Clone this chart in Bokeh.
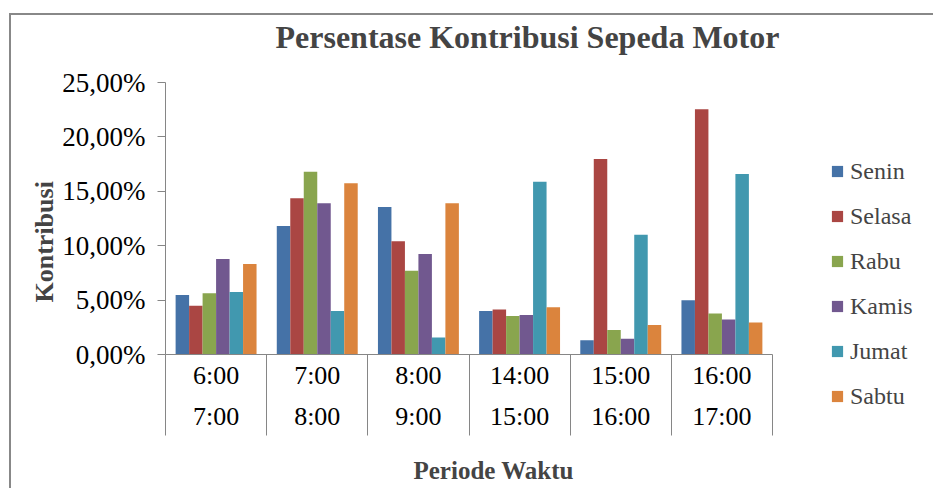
import numpy as np
from bokeh.plotting import figure
from bokeh.layouts import row
from bokeh.models import (ColumnDataSource, Range1d, FixedTicker, Legend, LegendItem,
                          Title, LinearAxis)
from bokeh.transform import dodge
from bokeh.embed import file_html
from bokeh.resources import INLINE

# ---- data ----
periods = ["6:00\n7:00", "7:00\n8:00", "8:00\n9:00", "14:00\n15:00", "15:00\n16:00", "16:00\n17:00"]
days = ["Senin", "Selasa", "Rabu", "Kamis", "Jumat", "Sabtu"]
senin  = [5.48, 11.80, 13.55, 4.00, 1.31, 4.98]
selasa = [4.47, 14.37, 10.40, 4.13, 17.98, 22.55]
rabu   = [5.62, 16.80, 7.70, 3.55, 2.26, 3.76]
kamis  = [8.78, 13.90, 9.24, 3.64, 1.44, 3.21]
jumat  = [5.75, 4.00, 1.56, 15.87, 11.00, 16.58]
sabtu  = [8.32, 15.75, 13.90, 4.34, 2.72, 2.94]
y_ticks = [0, 5, 10, 15, 20, 25]
y_tick_labels = ["0,00%", "5,00%", "10,00%", "15,00%", "20,00%", "25,00%"]

series = [senin, selasa, rabu, kamis, jumat, sabtu]
colors = ["#4572A7", "#AA4643", "#89A54E", "#71588F", "#4198AF", "#DB843D"]

FONT = "Liberation Serif"
GRAY = "#868686"
BORDER = "#888888"

x_pos = np.arange(len(periods)) + 0.5
data = {"x": x_pos}
for d, s in zip(days, series):
    data[d] = s
source = ColumnDataSource(data)

p = figure(width=800, height=488, output_backend="svg", toolbar_location=None,
           x_range=Range1d(0, len(periods)), y_range=Range1d(0, 25),
           x_axis_type=None, y_axis_type=None,
           min_border_left=165, min_border_right=28, min_border_top=82, min_border_bottom=134)
p.frame_align = False
p.outline_line_color = None
p.background_fill_color = "white"
p.border_fill_alpha = 0
# outer chart border (top and left edges visible in the reference)
p.styles = {
    "background-color": "white",
    "background-image": f"linear-gradient({BORDER}, {BORDER}), linear-gradient({BORDER}, {BORDER})",
    "background-position": "9px 13px, 9px 13px",
    "background-size": "100% 2px, 2px 100%",
    "background-repeat": "no-repeat, no-repeat",
}

# axes
xaxis = LinearAxis(ticker=FixedTicker(ticks=list(x_pos), minor_ticks=list(range(len(periods) + 1))))
xaxis.major_label_overrides = {float(v): lab for v, lab in zip(x_pos, periods)}
xaxis.major_tick_out = 0
xaxis.major_tick_in = 0
xaxis.minor_tick_out = 81
xaxis.minor_tick_in = 0
xaxis.minor_tick_line_color = GRAY
xaxis.axis_line_color = GRAY
xaxis.major_label_text_font = FONT
xaxis.major_label_text_font_size = "26px"
xaxis.major_label_text_color = "black"
xaxis.major_label_text_line_height = 1.42
xaxis.major_label_standoff = -75
p.add_layout(xaxis, "below")

yaxis = LinearAxis(ticker=FixedTicker(ticks=y_ticks, minor_ticks=[]))
yaxis.major_label_overrides = {t: lab for t, lab in zip(y_ticks, y_tick_labels)}
yaxis.major_tick_out = 8
yaxis.major_tick_in = 0
yaxis.major_tick_line_color = GRAY
yaxis.axis_line_color = GRAY
yaxis.major_label_text_font = FONT
yaxis.major_label_text_font_size = "27px"
yaxis.major_label_text_color = "black"
yaxis.major_label_standoff = 12
p.add_layout(yaxis, "left")

p.ygrid.ticker = FixedTicker(ticks=y_ticks)
p.ygrid.grid_line_color = GRAY
p.ygrid.grid_line_width = 1.5
p.xgrid.visible = False

# bars
n = len(days)
bw = 0.8 / n
for i, (d, c) in enumerate(zip(days, colors)):
    off = (i - (n - 1) / 2) * bw
    p.vbar(x=dodge("x", off, range=p.x_range), top=d, width=bw, bottom=0,
           source=source, fill_color=c, line_color=None)

# titles (spacers push the texts away from the plot area)
p.title.text = ""
p.add_layout(Title(text=" ", text_font_size="1px", standoff=25), "above")
p.add_layout(Title(text="Persentase Kontribusi Sepeda Motor", text_font=FONT,
                   text_font_size="32px", text_font_style="bold",
                   align="left", offset=110, standoff=0), "above")

p.add_layout(Title(text="Kontribusi", text_font=FONT, text_font_size="26px",
                   text_font_style="bold", align="left", offset=52, standoff=2), "left")

p.add_layout(Title(text=" ", text_font_size="1px", standoff=18), "below")
p.add_layout(Title(text="Periode Waktu", text_font=FONT, text_font_size="25px",
                   text_font_style="bold", align="left", offset=248, standoff=0), "below")

# legend panel
pl = figure(width=133, height=488, output_backend="svg", toolbar_location=None,
            x_range=Range1d(0, 1), y_range=Range1d(0, 1),
            x_axis_type=None, y_axis_type=None, min_border=0)
pl.frame_align = False
pl.outline_line_color = None
pl.background_fill_alpha = 0
pl.border_fill_alpha = 0
pl.xgrid.visible = False
pl.ygrid.visible = False
pl.title.text = ""
pl.styles = {
    "background-color": "white",
    "background-image": f"linear-gradient({BORDER}, {BORDER})",
    "background-position": "0px 13px",
    "background-size": "100% 2px",
    "background-repeat": "no-repeat",
}
items = []
for d, c in zip(days, colors):
    r = pl.vbar(x="x", top=d, width=bw, source=source, fill_color=c, line_color=None,
                visible=False)
    items.append(LegendItem(label=d, renderers=[r]))

legend = Legend(items=items, location=(30, 78))
legend.label_text_font = FONT
legend.label_text_font_size = "24px"
legend.glyph_width = 14
legend.glyph_height = 14
legend.label_standoff = 6
legend.label_height = 28
legend.spacing = 17
legend.padding = 0
legend.margin = 0
legend.border_line_color = None
legend.background_fill_alpha = 0
legend.inactive_fill_alpha = 0
pl.add_layout(legend, "center")

layout = row(p, pl, spacing=0)
open("out.html", "w").write(file_html(layout, INLINE))
